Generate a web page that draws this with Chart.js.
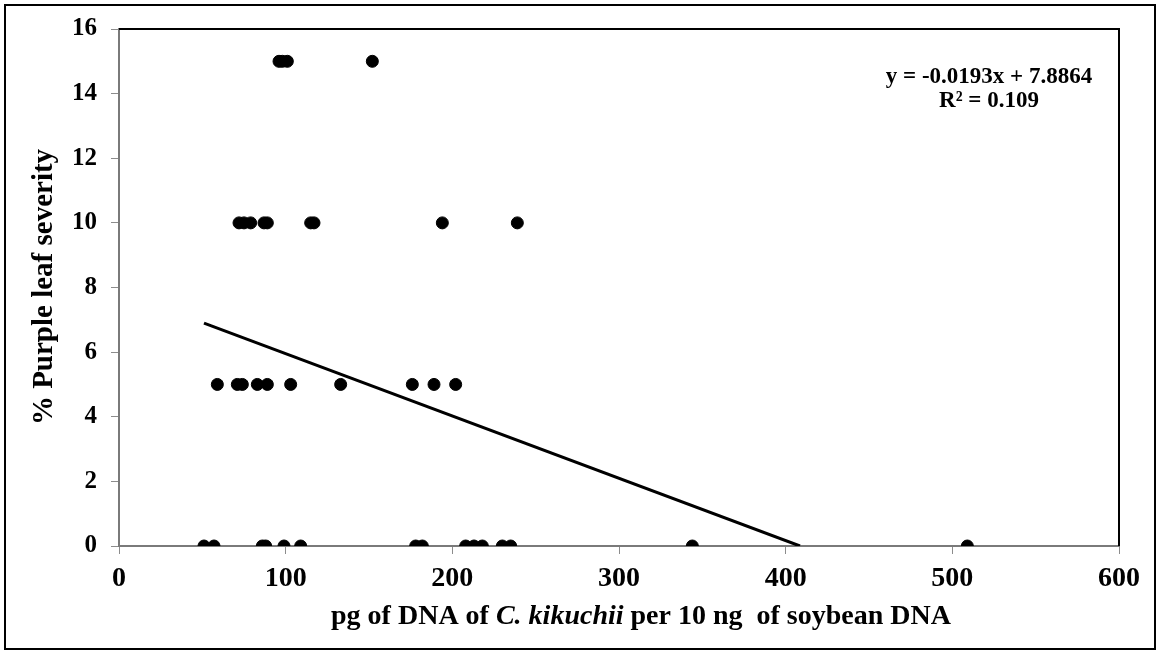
<!DOCTYPE html>
<html>
<head>
<meta charset="utf-8">
<script src="https://cdn.jsdelivr.net/npm/chart.js@4/dist/chart.umd.min.js"></script>
<style>
html,body{margin:0;padding:0;background:#fff;}
#wrap{width:1160px;height:655px;position:relative;}
</style>
</head>
<body>
<div id="wrap"><canvas id="c" width="1160" height="655"></canvas></div>
<script>
// Observed data points (x = pg of DNA per 10 ng soybean DNA, y = % purple leaf severity)
const xValues = [96, 98, 101, 152,
  72, 75, 79, 87, 89, 115, 117, 194, 239,
  59, 71, 74, 83, 89, 103, 133, 176, 189, 202,
  51, 57, 86, 88, 99, 109, 178, 182, 208, 213, 218, 230, 235, 344, 509];
const yValues = [15, 15, 15, 15,
  10, 10, 10, 10, 10, 10, 10, 10, 10,
  5, 5, 5, 5, 5, 5, 5, 5, 5, 5,
  0, 0, 0, 0, 0, 0, 0, 0, 0, 0, 0, 0, 0, 0, 0];
// Trendline endpoints as drawn in the reference
const trendX = [51, 408.6];
const trendY = [6.90, 0];
const xTicks = [0, 100, 200, 300, 400, 500, 600];
const yTicks = [0, 2, 4, 6, 8, 10, 12, 14, 16];
const eqLines = ['y = -0.0193x + 7.8864', 'R\u00B2 = 0.109'];
// x-axis title pieces: [text, italic?]
const xTitleParts = [['pg of DNA of ', false], ['C. kikuchii', true], [' per 10 ng  of soybean DNA', false]];
const yTitle = '% Purple leaf severity';

const points = xValues.map((x, i) => ({x: x, y: yValues[i]}));
const trend = trendX.map((x, i) => ({x: x, y: trendY[i]}));

const serif = '"Liberation Serif", "Times New Roman", serif';

const decor = {
  id: 'decor',
  afterDraw(chart) {
    const ctx = chart.ctx, a = chart.chartArea;
    ctx.save();
    // outer frame
    ctx.strokeStyle = '#000';
    ctx.lineWidth = 2;
    ctx.strokeRect(5, 5, 1150, 644);
    // plot area top & right borders
    ctx.beginPath();
    ctx.moveTo(a.left, a.top);
    ctx.lineTo(a.right, a.top);
    ctx.lineTo(a.right, a.bottom);
    ctx.stroke();
    // equation
    ctx.fillStyle = '#000';
    ctx.font = 'bold 23px ' + serif;
    ctx.textAlign = 'center';
    ctx.textBaseline = 'middle';
    ctx.fillText(eqLines[0], 989, 77);
    ctx.fillText(eqLines[1], 989, 101);
    // x-axis title with italic species name
    const fonts = xTitleParts.map(p => (p[1] ? 'italic bold 28px ' : 'bold 28px ') + serif);
    let total = 0;
    const widths = xTitleParts.map((p, i) => { ctx.font = fonts[i]; const w = ctx.measureText(p[0]).width; total += w; return w; });
    let x = 641 - total / 2;
    ctx.textAlign = 'left';
    xTitleParts.forEach((p, i) => { ctx.font = fonts[i]; ctx.fillText(p[0], x, 617); x += widths[i]; });
    // y-axis title
    ctx.translate(45, 287);
    ctx.rotate(-Math.PI / 2);
    ctx.textAlign = 'center';
    ctx.font = 'bold 29px ' + serif;
    ctx.fillText(yTitle, 0, 0);
    ctx.restore();
  }
};

new Chart(document.getElementById('c'), {
  type: 'scatter',
  data: {
    datasets: [
      {
        type: 'line',
        data: trend,
        borderColor: '#000',
        borderWidth: 3,
        pointRadius: 0,
        fill: false,
        showLine: true,
        order: 2
      },
      {
        data: points,
        backgroundColor: '#000',
        borderColor: '#000',
        pointRadius: 6,
        pointHoverRadius: 6,
        order: 1
      }
    ]
  },
  options: {
    responsive: false,
    animation: false,
    plugins: {legend: {display: false}, tooltip: {enabled: false}},
    layout: {padding: {left: 0, top: 29, right: 41, bottom: 0}},
    scales: {
      x: {
        type: 'linear',
        min: 0, max: 600,
        afterBuildTicks(s) { s.ticks = xTicks.map(v => ({value: v})); },
        afterFit(s) { s.height = 109; },
        grid: {display: true, drawOnChartArea: false, drawTicks: true, tickLength: 8, color: '#8c8c8c', lineWidth: 1},
        border: {display: true, color: '#7a7a7a', width: 2},
        ticks: {color: '#000', padding: 8, font: {family: serif, size: 28, weight: 'bold'}, maxRotation: 0},
        title: {display: false}
      },
      y: {
        type: 'linear',
        min: 0, max: 16,
        afterBuildTicks(s) { s.ticks = yTicks.map(v => ({value: v})); },
        afterFit(s) { s.width = 119; },
        grid: {display: true, drawOnChartArea: false, drawTicks: true, tickLength: 8, color: '#8c8c8c', lineWidth: 1},
        border: {display: true, color: '#7a7a7a', width: 2},
        ticks: {color: '#000', padding: 14, font: {family: serif, size: 25, weight: 'bold'}},
        title: {display: false}
      }
    }
  },
  plugins: [decor]
});
</script>
</body>
</html>
